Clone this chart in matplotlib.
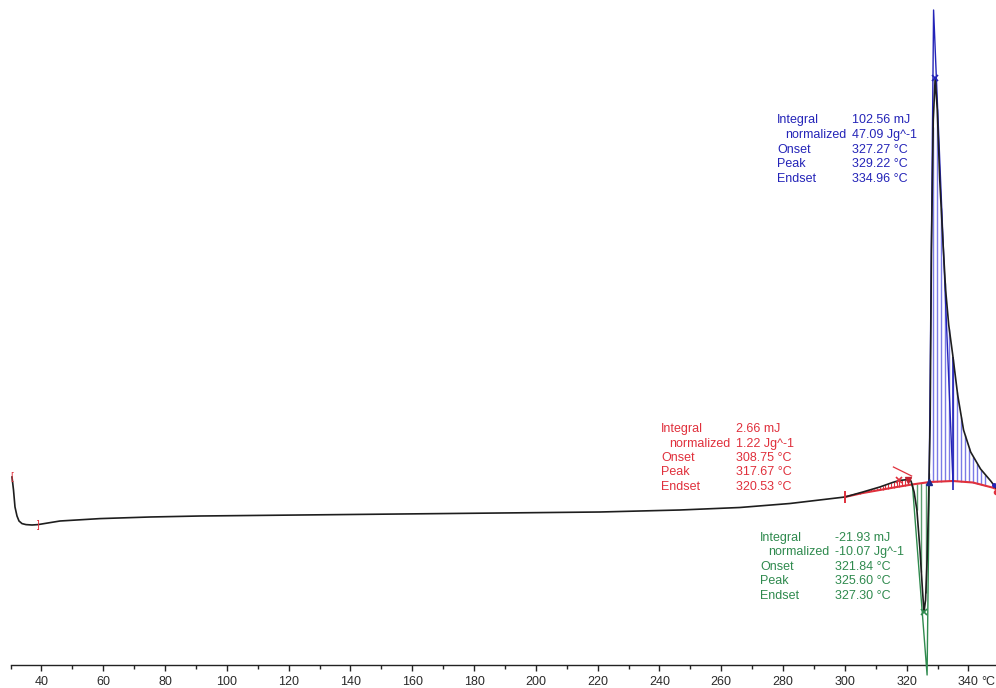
import numpy as np
import matplotlib
matplotlib.use("Agg")
import matplotlib.pyplot as plt

# ---- DSC heating run: temperature (°C) and heat flow (arbitrary mW units) ----
temp_c = [30.45, 30.94, 31.42, 32.07, 32.72, 33.69, 34.98, 36.93, 38.87, 45.99,
          58.93, 75.11, 91.30, 123.65, 156.00, 188.40, 220.70, 246.60, 266.00,
          282.20, 300.00, 305.80, 311.30, 315.50, 317.67, 320.40, 321.40, 322.40,
          323.30, 324.30, 325.10, 325.60, 326.10, 326.60, 327.10, 327.60, 328.00,
          328.60, 329.22, 329.90, 330.70, 331.70, 332.60, 333.60, 334.90, 336.50,
          338.40, 340.70, 343.90, 347.20, 348.90]
heat_flow = [1.15, 0.50, -0.35, -0.80, -1.05, -1.18, -1.23, -1.25, -1.23, -1.05,
             -0.93, -0.85, -0.80, -0.75, -0.70, -0.65, -0.60, -0.50, -0.375,
             -0.175, 0.15, 0.40, 0.65, 0.88, 0.98, 1.02, 0.95, 0.40,
             -0.50, -2.50, -4.50, -5.60, -5.00, -3.00, 0.00, 4.00, 12.50,
             19.00, 21.10, 19.50, 16.00, 13.00, 10.50, 8.75, 7.25, 5.25,
             3.50, 2.40, 1.55, 0.95, 0.60]

# Integration baseline under the three thermal events
base_t = [300.0, 305.8, 311.3, 316.8, 321.7, 327.5, 334.9, 341.4, 347.8, 348.9]
base_v = [0.15, 0.35, 0.50, 0.65, 0.775, 0.90, 0.95, 0.875, 0.62, 0.55]

# Evaluation results for each event
events = {
    "red": dict(integral="2.66 mJ", normalized="1.22 Jg^-1",
                onset=308.75, peak=317.67, endset=320.53),
    "green": dict(integral="-21.93 mJ", normalized="-10.07 Jg^-1",
                  onset=321.84, peak=325.60, endset=327.30),
    "blue": dict(integral="102.56 mJ", normalized="47.09 Jg^-1",
                 onset=327.27, peak=329.22, endset=334.96),
}
# Apex of the inflection tangents of the two large peaks
apex_t = {"green": 326.6, "blue": 328.7}
apex_v = {"green": -8.75, "blue": 24.5}
# Tangent segment drawn across the small exotherm
red_tan_t = [315.7, 321.6]
red_tan_v = [1.65, 1.20]

xticks_major = list(range(40, 341, 20))
xticks_minor = list(range(30, 349, 10))

C_CURVE = "#1e1e1e"
C_RED = "#e0303c"
C_GREEN = "#2f8a4e"
C_BLUE = "#2424b8"
C_BLUE_H = "#7a7ae6"
C_GREEN_H = "#5a9e6e"

W, H = 996, 688
fig = plt.figure(figsize=(W / 100, H / 100), dpi=100)
left = 10.6 / W
bottom = 23 / H
ax = fig.add_axes([left, bottom, 1 - left, 1 - bottom])
ax.set_xlim(30, 348.9)
ax.set_ylim(-8.25, 25)

t = np.array(temp_c)
v = np.array(heat_flow)


def curve_at(x):
    return np.interp(x, t, v)


def base_at(x):
    return np.interp(x, base_t, base_v)


# hatching between curve and baseline
def hatch(t0, t1, step, color, lw=0.9):
    xs = np.arange(t0, t1 + 1e-9, step)
    ax.vlines(xs, base_at(xs), curve_at(xs), colors=color, lw=lw, zorder=2)


hatch(305.0, 320.5, 0.9, C_RED, 0.8)
hatch(events["green"]["onset"], events["green"]["endset"], 1.45, C_GREEN_H, 1.0)
hatch(events["blue"]["onset"], 346.5, 1.3, C_BLUE_H, 1.0)

# baseline
ax.plot(base_t, base_v, color=C_RED, lw=1.5, zorder=3)

# tangent constructions
for key, col in (("green", C_GREEN), ("blue", C_BLUE)):
    ev = events[key]
    ax.plot([ev["onset"], apex_t[key], ev["endset"]],
            [base_at(ev["onset"]), apex_v[key], base_at(ev["endset"])],
            color=col, lw=1.0, zorder=4, clip_on=False)
ax.plot(red_tan_t, red_tan_v, color=C_RED, lw=0.9, zorder=4)

# endset marker line of the melting peak
ev = events["blue"]
ax.vlines(ev["endset"], base_at(ev["endset"]) - 0.45, curve_at(ev["endset"]),
          colors=C_BLUE, lw=1.2, zorder=4)

# the measured curve
ax.plot(t, v, color=C_CURVE, lw=1.2, zorder=5)

# peak markers
for key, col in (("red", C_RED), ("green", C_GREEN), ("blue", C_BLUE)):
    pk = events[key]["peak"]
    ax.plot([pk], [curve_at(pk)], marker="x", ms=5, mew=1.2, color=col, zorder=6)

# limit / onset markers
ax.plot([events["red"]["endset"]], [curve_at(events["red"]["endset"])],
        marker="v", ms=4, color="#c02030", zorder=6)
ax.plot([events["blue"]["onset"]], [base_at(events["blue"]["onset"])],
        marker="^", ms=4, color="#1a2a90", zorder=6)
ax.plot([base_t[0]], [base_v[0]], marker="|", ms=9, mew=1.4, color=C_RED, zorder=6)
ax.plot([base_t[-1]], [base_v[-1] - 0.15], marker="o", ms=3, color=C_RED, zorder=6, clip_on=False)
ax.plot([base_t[-1] - 0.6], [base_v[-1] + 0.2], marker="o", ms=2.5, color=C_BLUE, zorder=6, clip_on=False)
ax.text(temp_c[0], heat_flow[0], "[", color=C_RED, fontsize=7,
        ha="center", va="center", family="Liberation Sans", zorder=6)
ax.text(temp_c[8], heat_flow[8], "]", color=C_RED, fontsize=7,
        ha="center", va="center", family="Liberation Sans", zorder=6)

# axis styling
for s in ("left", "right", "top"):
    ax.spines[s].set_visible(False)
ax.spines["bottom"].set_color("#222222")
ax.spines["bottom"].set_linewidth(1.0)
ax.set_yticks([])
ax.set_xticks(xticks_major)
ax.set_xticks(xticks_minor, minor=True)
ax.tick_params(axis="x", which="major", direction="out", length=4, width=1,
               color="#222222", labelsize=9, labelcolor="#2a2a2a", pad=4)
ax.tick_params(axis="x", which="minor", direction="out", length=3, width=1,
               color="#222222")
for lab in ax.get_xticklabels():
    lab.set_family("Liberation Sans")
fig.text(995.5 / W, 1 - 682 / H, "°C", fontsize=9, color="#2a2a2a",
         family="Liberation Sans", ha="right", va="center")


# result blocks
def result_block(x_lab, x_val, y_rows, col, ev):
    labels = ["Integral", "normalized", "Onset", "Peak", "Endset"]
    values = [ev["integral"], ev["normalized"],
              f"{ev['onset']:.2f} °C", f"{ev['peak']:.2f} °C", f"{ev['endset']:.2f} °C"]
    for i, (lb, vl) in enumerate(zip(labels, values)):
        xl = x_lab + (8 if lb == "normalized" else 0)
        fig.text(xl / W, 1 - y_rows[i] / H, lb, fontsize=9, color=col,
                 family="Liberation Sans", ha="left", va="center")
        fig.text(x_val / W, 1 - y_rows[i] / H, vl, fontsize=9, color=col,
                 family="Liberation Sans", ha="left", va="center")


result_block(777, 852, [120, 135, 150, 164, 179], C_BLUE, events["blue"])
result_block(661, 736, [429, 444, 458, 472, 487], C_RED, events["red"])
result_block(760, 835, [538, 552, 567, 581, 596], C_GREEN, events["green"])

fig.savefig("out.png", dpi=100)
